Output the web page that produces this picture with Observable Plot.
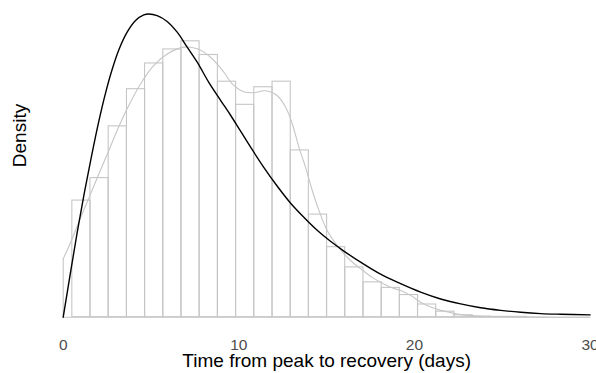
<!DOCTYPE html>
<html>
<head>
<meta charset="utf-8">
<script src="https://cdn.jsdelivr.net/npm/d3@7"></script>
<script src="https://cdn.jsdelivr.net/npm/@observablehq/plot@0.6"></script>
<style>
  html, body { margin: 0; padding: 0; background: #fff; }
</style>
</head>
<body>
<div id="chart"></div>
<script>
// Histogram bins (left edges, days) and their densities
const binStart = [0.52, 1.55, 2.59, 3.63, 4.66, 5.70, 6.73, 7.77, 8.81, 9.84, 10.88, 11.92, 12.95, 13.99, 15.02, 16.06, 17.10, 18.13, 19.17, 20.20, 21.24, 22.28, 23.31, 24.35, 25.39];
const binWidth = 1.036;
const binDensity = [0.0358, 0.0427, 0.0586, 0.0700, 0.0779, 0.0822, 0.0847, 0.0805, 0.0723, 0.0652, 0.0706, 0.0723, 0.0512, 0.0315, 0.0215, 0.0153, 0.0107, 0.0090, 0.0068, 0.0039, 0.0017, 0.0006, 0.0002, 0.0001, 0.0001];

// Kernel density estimate (gray curve)
const kdeX = [0, 0.51, 1.0, 1.5, 2.0, 2.6, 3.1, 3.64, 4.40, 5.16, 5.92, 6.87, 7.63, 8.39, 9.15, 9.6, 10.28, 10.85, 11.5, 12.19, 12.66, 13.04, 13.42, 13.80, 14.18, 14.56, 15.03, 15.6, 16.36, 16.93, 17.57, 18.07, 18.64, 19.21, 19.78, 20.35, 20.92, 21.49, 22.06, 22.63, 23.77, 24.9, 26, 28, 30];
const kdeY = [0.0179, 0.0241, 0.0307, 0.0371, 0.0436, 0.0512, 0.0577, 0.0640, 0.0716, 0.0773, 0.0808, 0.0829, 0.0824, 0.0798, 0.0752, 0.0718, 0.0692, 0.0689, 0.0695, 0.0680, 0.0645, 0.0594, 0.0522, 0.0460, 0.0389, 0.0328, 0.0266, 0.0220, 0.0174, 0.0149, 0.0123, 0.0107, 0.0092, 0.0082, 0.0067, 0.0046, 0.0031, 0.0021, 0.0014, 0.0008, 0.0003, 0.0002, 0.0001, 0, 0];

// Fitted distribution (black curve)
const fitX = [0, 0.4, 0.8, 1.2, 1.61, 2.03, 2.41, 2.79, 3.17, 3.64, 4.12, 4.59, 4.87, 5.35, 5.92, 6.49, 7.06, 7.63, 8.29, 8.96, 9.53, 10.10, 10.67, 11.42, 12.19, 12.95, 13.70, 14.46, 15.22, 15.98, 16.93, 18.07, 19.21, 20.35, 21.49, 22.63, 23.77, 24.91, 26.05, 27.19, 28.33, 30.0];
const fitY = [0, 0.0132, 0.0261, 0.0381, 0.0494, 0.0602, 0.0688, 0.0761, 0.0821, 0.0875, 0.0911, 0.0928, 0.0931, 0.0926, 0.0908, 0.0875, 0.0829, 0.0783, 0.0721, 0.0666, 0.0620, 0.0571, 0.0522, 0.0460, 0.0402, 0.0350, 0.0307, 0.0267, 0.0233, 0.0203, 0.0169, 0.0132, 0.0103, 0.0077, 0.0056, 0.0041, 0.0029, 0.0021, 0.0015, 0.0011, 0.0009, 0.0007];

const xTicks = [0, 10, 20, 30];
const xTitle = "Time from peak to recovery (days)";
const yTitle = "Density";

const bins = binStart.map((s, i) => ({x1: s, x2: s + binWidth, d: binDensity[i]}));
const kde = kdeX.map((x, i) => ({x, y: kdeY[i]}));
const fit = fitX.map((x, i) => ({x, y: fitY[i]}));

const gray = "#c6c6c6";

const chart = Plot.plot({
  width: 596,
  height: 373,
  marginLeft: 62.7,
  marginRight: 6.4,
  marginTop: 16.7,
  marginBottom: 56.3,
  x: {domain: [0, 30], axis: null},
  y: {domain: [0, 0.0921], axis: null},
  style: {fontFamily: "'Liberation Sans', Arial, Helvetica, sans-serif", background: "#fff"},
  marks: [
    Plot.rectY(bins, {x1: "x1", x2: "x2", y1: 0, y2: "d", fill: "none", stroke: gray, strokeWidth: 1.1}),
    Plot.ruleY([{y: 0, a: kdeX[0], b: kdeX[kdeX.length - 1]}], {y: "y", x1: "a", x2: "b", stroke: gray, strokeWidth: 1.1}),
    Plot.ruleX([{x: kdeX[0], top: kdeY[0]}], {x: "x", y1: 0, y2: "top", stroke: gray, strokeWidth: 1.1}),
    Plot.line(kde, {x: "x", y: "y", curve: "catmull-rom", stroke: gray, strokeWidth: 1.1}),
    Plot.line(fit, {x: "x", y: "y", curve: "catmull-rom", stroke: "#000", strokeWidth: 1.4}),
    Plot.text(xTicks, {x: d => d, frameAnchor: "bottom", lineAnchor: "top", dy: 21.6, fontSize: 15.5, fill: "#4d4d4d", text: d => String(d)}),
    Plot.text([xTitle], {frameAnchor: "bottom", lineAnchor: "top", dy: 36.3, fontSize: 19, fill: "#000", text: d => d}),
    Plot.text([yTitle], {frameAnchor: "left", rotate: -90, lineAnchor: "middle", dx: -43.2, fontSize: 19, fill: "#000", text: d => d})
  ]
});

document.getElementById("chart").appendChild(chart);
</script>
</body>
</html>
